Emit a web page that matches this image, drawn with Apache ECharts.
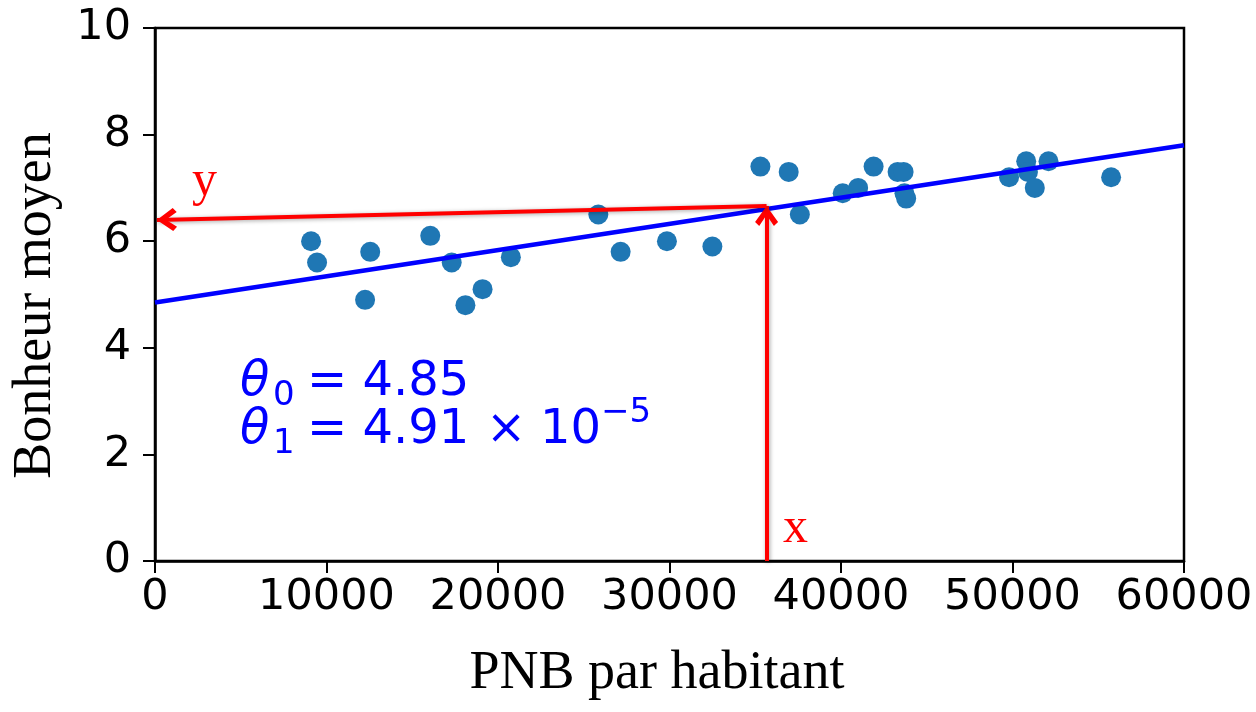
<!DOCTYPE html>
<html>
<head>
<meta charset="utf-8">
<script src="https://cdn.jsdelivr.net/npm/echarts@6/dist/echarts.min.js"></script>
<style>
  html, body { margin: 0; padding: 0; background: #fff; }
  #chart { width: 1256px; height: 712px; }
</style>
</head>
<body>
<div id="chart"></div>
<script>
// PNB par habitant (x) et bonheur moyen (y)
var gdp = [9100, 9450, 12250, 12550, 16050, 17300, 18100, 19100, 20750,
  25850, 27150, 29850, 32500, 35300, 36950, 37600, 40100, 41000, 41900,
  43300, 43650, 43700, 43800, 49800, 50800, 50900, 51300, 52100, 55750];
var happiness = [6.0, 5.6, 4.9, 5.8, 6.1, 5.6, 4.8, 5.1, 5.7,
  6.5, 5.8, 6.0, 5.9, 7.4, 7.3, 6.5, 6.9, 7.0, 7.4,
  7.3, 7.3, 6.9, 6.8, 7.2, 7.5, 7.3, 7.0, 7.5, 7.2];

// droite du modèle linéaire (theta0 = 4.85, theta1 = 4.91e-5)
var lineX = [0, 60000];
var lineY = [4.85, 7.80];

// flèches rouges : x -> prédiction -> y
var arrowX = [35660, 35660, 110];
var arrowY = [0, 6.66, 6.40];

var xTicks = [0, 10000, 20000, 30000, 40000, 50000, 60000];
var yTicks = [0, 2, 4, 6, 8, 10];

var chevron = 'path://M10,0 L20,13.5 L16.4,16.8 L10,7.6 L3.6,16.8 L0,13.5 Z';

var chart = echarts.init(document.getElementById('chart'));

var redLine = {
  color: '#ff0000',
  width: 4,
  type: 'solid',
  shadowBlur: 4,
  shadowColor: 'rgba(0,0,0,0.35)',
  shadowOffsetX: 1,
  shadowOffsetY: 1
};

chart.setOption({
  animation: false,
  grid: {
    left: 155, right: 72, top: 28, bottom: 151,
    show: true, borderColor: '#000', borderWidth: 2.5
  },
  xAxis: {
    type: 'value',
    min: xTicks[0],
    max: xTicks[xTicks.length - 1],
    interval: 10000,
    name: 'PNB par habitant',
    nameLocation: 'middle',
    nameGap: 86,
    nameTextStyle: { fontFamily: 'Liberation Serif', fontSize: 54, color: '#000', padding: [0, 25, 0, 0] },
    axisLine: { lineStyle: { color: '#000', width: 2.5 } },
    axisTick: { length: 12, lineStyle: { color: '#000', width: 2 } },
    axisLabel: {
      fontFamily: 'DejaVu Sans', fontSize: 43, color: '#000', margin: 15,
      formatter: function (v) { return String(v); }
    },
    splitLine: { show: false }
  },
  yAxis: {
    type: 'value',
    min: yTicks[0],
    max: yTicks[yTicks.length - 1],
    interval: 2,
    name: 'Bonheur moyen',
    nameLocation: 'middle',
    nameGap: 92,
    nameTextStyle: { fontFamily: 'Liberation Serif', fontSize: 54, color: '#000', padding: [0, 22, 0, 0] },
    axisLine: { lineStyle: { color: '#000', width: 2.5 } },
    axisTick: { length: 12, lineStyle: { color: '#000', width: 2 } },
    axisLabel: { fontFamily: 'DejaVu Sans', fontSize: 43, color: '#000', margin: 24 },
    splitLine: { show: false }
  },
  series: [
    {
      type: 'scatter',
      symbolSize: 20,
      itemStyle: { color: '#1f77b4', opacity: 1 },
      data: gdp.map(function (g, i) { return [g, happiness[i]]; }),
      z: 2
    },
    {
      type: 'line',
      data: lineX.map(function (x, i) { return [x, lineY[i]]; }),
      showSymbol: false,
      lineStyle: { color: '#0000ff', width: 4.5 },
      z: 3,
      markLine: {
        silent: true,
        symbol: ['none', chevron],
        symbolSize: [23, 20],
        symbolOffset: [0, [0, '50%']],
        label: { show: false },
        lineStyle: redLine,
        data: [
          [{ coord: [arrowX[0], arrowY[0]] }, { coord: [arrowX[1], arrowY[1]] }],
          [{ coord: [arrowX[1], arrowY[1]] }, { coord: [arrowX[2], arrowY[2]] }]
        ]
      }
    }
  ],
  graphic: [
    { type: 'text', style: { x: 192, y: 182, text: 'y', font: '50px "Liberation Serif"', fill: '#ff0000', verticalAlign: 'middle' } },
    { type: 'text', style: { x: 783, y: 529, text: 'x', font: '50px "Liberation Serif"', fill: '#ff0000', verticalAlign: 'middle' } },
    // theta_0 = 4.85
    { type: 'text', style: { x: 240, y: 383, text: 'θ', font: 'italic 48px "DejaVu Sans"', fill: '#0000ff', verticalAlign: 'middle' } },
    { type: 'text', style: { x: 273, y: 396, text: '0', font: '34px "DejaVu Sans"', fill: '#0000ff', verticalAlign: 'middle' } },
    { type: 'text', style: { x: 307, y: 383, text: '= 4.85', font: '48px "DejaVu Sans"', fill: '#0000ff', verticalAlign: 'middle' } },
    // theta_1 = 4.91 x 10^-5
    { type: 'text', style: { x: 240, y: 431, text: 'θ', font: 'italic 48px "DejaVu Sans"', fill: '#0000ff', verticalAlign: 'middle' } },
    { type: 'text', style: { x: 273, y: 444, text: '1', font: '34px "DejaVu Sans"', fill: '#0000ff', verticalAlign: 'middle' } },
    { type: 'text', style: { x: 307, y: 431, text: '= 4.91', font: '48px "DejaVu Sans"', fill: '#0000ff', verticalAlign: 'middle' } },
    { type: 'text', style: { x: 486, y: 431, text: '×', font: '48px "DejaVu Sans"', fill: '#0000ff', verticalAlign: 'middle' } },
    { type: 'text', style: { x: 540, y: 431, text: '10', font: '48px "DejaVu Sans"', fill: '#0000ff', verticalAlign: 'middle' } },
    { type: 'text', style: { x: 601, y: 413, text: '−5', font: '34px "DejaVu Sans"', fill: '#0000ff', verticalAlign: 'middle' } }
  ]
});
</script>
</body>
</html>
